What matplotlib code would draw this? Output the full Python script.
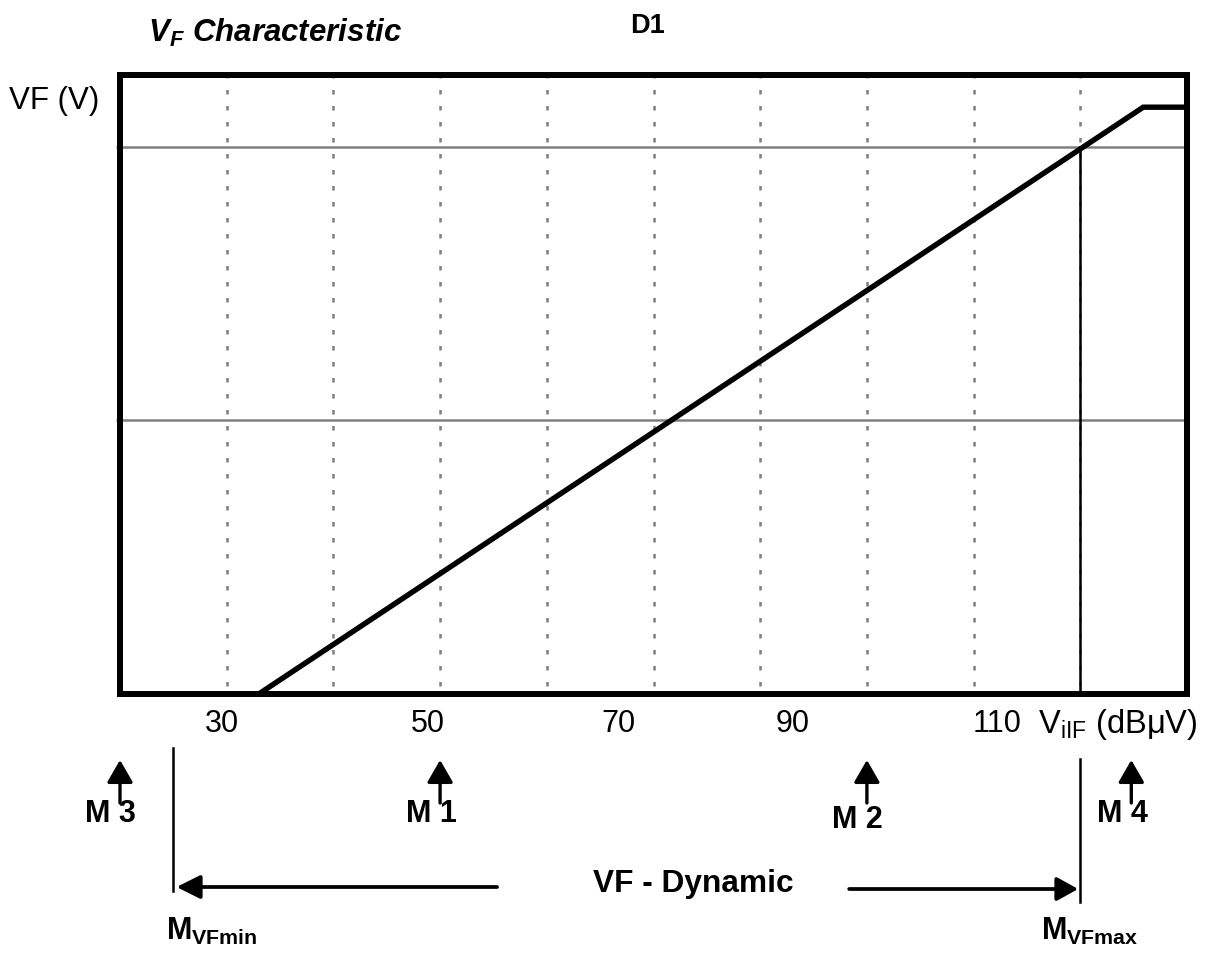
import matplotlib
matplotlib.use('Agg')
import matplotlib.pyplot as plt
from matplotlib.transforms import blended_transform_factory

plt.rcParams['font.family'] = ['Liberation Sans', 'DejaVu Sans']
plt.rcParams['mathtext.fontset'] = 'custom'
plt.rcParams['mathtext.rm'] = 'Liberation Sans'
plt.rcParams['mathtext.it'] = 'Liberation Sans:italic'
plt.rcParams['mathtext.bf'] = 'Liberation Sans:bold'

# ---- data (schematic units: x grid at 1..9, y from 0 to 10) ----
grid_x = [1, 2, 3, 4, 5, 6, 7, 8, 9]
ref_levels = [4.43, 8.84]
curve_x = [1.30, 9.59, 10.0]
curve_y = [0.0, 9.48, 9.48]
vf_max_x = 9.0
vf_max_level = 8.84
vf_min_x = 0.497
tick_pos = [0.956, 2.887, 4.667, 6.30, 8.22]
tick_labels = ['30', '50', '70', '90', '110']
marker_names = ['M 3', 'M 1', 'M 2', 'M 4']
marker_x = [0.0, 3.0, 7.0, 9.478]
marker_label_base = [822, 822, 828, 822]

W, H = 1213, 956
fig = plt.figure(figsize=(W / 100, H / 100), dpi=100)
ax = fig.add_axes([120 / W, 1 - 694 / H, 1067 / W, 619 / H])
ax.set_xlim(0, 10)
ax.set_ylim(0, 10)


def fy(p):
    return 1 - p / H


trans = blended_transform_factory(ax.transData, fig.transFigure)

# dotted vertical grid
for gx in grid_x:
    ax.plot([gx, gx], [10, 0], color='#808080', lw=1.8,
            linestyle=(0.6, (1.8, 4.6)), zorder=1)

# reference levels
for lv in ref_levels:
    ax.plot([-0.04, 10], [lv, lv], color='#808080', lw=1.8, zorder=1.5,
            clip_on=False, solid_capstyle='butt')

# characteristic curve
ax.plot(curve_x, curve_y, color='black', lw=3.9, solid_capstyle='butt',
        solid_joinstyle='miter', zorder=3)

# vertical line at VF max
ax.plot([vf_max_x, vf_max_x], [vf_max_level, 0], color='black', lw=1.8, zorder=2)

for s in ax.spines.values():
    s.set_linewidth(4.32)
    s.set_capstyle('projecting')
    s.set_zorder(4)

ax.set_yticks([])
ax.set_xticks(tick_pos, tick_labels)
ax.tick_params(axis='x', length=0, pad=10.5, labelsize=22)

ax.text(8.60, fy(733), r'V$_\mathregular{iIF}$ (dBμV)', transform=trans,
        ha='left', va='baseline', fontsize=23.5)

# marker arrows and labels
for name, mx, base in zip(marker_names, marker_x, marker_label_base):
    ax.annotate('', xy=(mx, fy(760)), xytext=(mx, fy(803)),
                xycoords=trans, textcoords=trans, annotation_clip=False,
                arrowprops=dict(arrowstyle='-|>,head_length=13.7,head_width=7.9',
                                mutation_scale=1, lw=2.4, color='black',
                                shrinkA=0, shrinkB=0))
    ax.text(mx - 0.085, fy(base), name, transform=trans, ha='center',
            va='baseline', fontsize=22, fontweight='bold')

# dynamic range limits
ax.plot([vf_min_x, vf_min_x], [fy(748), fy(891)], transform=trans,
        clip_on=False, lw=1.8, color='black')
ax.plot([vf_max_x, vf_max_x], [fy(759), fy(902)], transform=trans,
        clip_on=False, lw=1.8, color='black')

ax.annotate('', xy=(0.53, fy(887)), xytext=(3.534, fy(887)),
            xycoords=trans, textcoords=trans, annotation_clip=False,
            arrowprops=dict(arrowstyle='-|>,head_length=14.4,head_width=7.2',
                            mutation_scale=1, lw=2.7, color='black',
                            shrinkA=0, shrinkB=0))
ax.annotate('', xy=(8.98, fy(889)), xytext=(6.834, fy(889)),
            xycoords=trans, textcoords=trans, annotation_clip=False,
            arrowprops=dict(arrowstyle='-|>,head_length=13.0,head_width=7.2',
                            mutation_scale=1, lw=2.7, color='black',
                            shrinkA=0, shrinkB=0))

ax.text(5.372, fy(892), 'VF - Dynamic', transform=trans, ha='center',
        va='baseline', fontsize=22.8, fontweight='bold')
ax.text(0.431, fy(940), r'M$_\mathregular{VFmin}$', transform=trans,
        ha='left', va='baseline', fontsize=22, fontweight='bold')
ax.text(8.634, fy(940), r'M$_\mathregular{VFmax}$', transform=trans,
        ha='left', va='baseline', fontsize=22, fontweight='bold')

# header texts
fig.text(148 / W, fy(42), r'V$_\mathregular{F}$ Characteristic', fontsize=22.5,
         fontweight='bold', style='italic', ha='left', va='baseline')
fig.text(648 / W, fy(33), 'D1', fontsize=19.5, fontweight='bold',
         ha='center', va='baseline')
fig.text(9 / W, fy(109), 'VF (V)', fontsize=22.5, ha='left', va='baseline')

fig.savefig('out.png', dpi=100)
